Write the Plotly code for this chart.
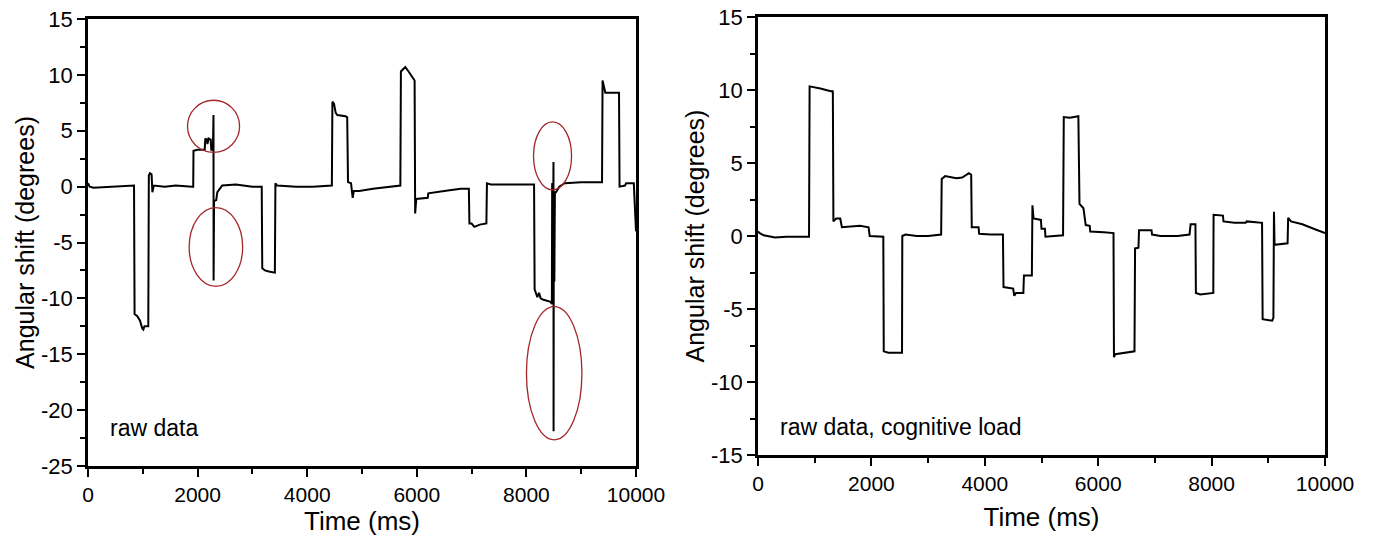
import plotly.graph_objects as go

# ---------------- data ----------------
left_t = [0, 30, 100, 300, 500, 700, 840, 850, 900, 950, 990, 1010, 1030, 1100,
          1110, 1130, 1160, 1175, 1200, 1400, 1600, 1900, 1920, 1925, 2000, 2130,
          2140, 2170, 2180, 2200, 2240, 2250, 2280, 2290, 2292, 2300, 2340, 2360,
          2450, 2700, 3000, 3170, 3180, 3230, 3300, 3410, 3420, 3450, 3800, 4100,
          4450, 4460, 4490, 4520, 4550, 4700, 4730, 4745, 4800, 4830, 4850, 4950,
          5200, 5500, 5700, 5710, 5750, 5790, 5850, 5940, 5960, 5970, 5990, 6200,
          6210, 6500, 6800, 6950, 6960, 7000, 7050, 7150, 7270, 7280, 7350, 7700,
          8140, 8150, 8200, 8230, 8260, 8300, 8440, 8465, 8470, 8475, 8480, 8485,
          8490, 8494, 8496, 8500, 8510, 8520, 8540, 8600, 8700, 9000, 9380, 9390,
          9410, 9440, 9690, 9700, 9800, 9820, 9960, 9975, 9990, 10000]
left_v = [0.3, 0.0, -0.1, -0.05, 0.0, 0.05, 0.1, -11.4, -11.6, -12.0, -12.7, -12.8, -12.5, -12.5,
          1.0, 1.2, 1.1, -0.5, 0.1, 0.0, 0.1, 0.0, 0.0, 3.2, 3.3, 3.3,
          4.3, 4.2, 3.8, 4.3, 4.2, 3.3, 3.3, 6.4, -8.4, -1.3, -1.2, -0.5,
          0.1, 0.2, 0.0, 0.0, -7.3, -7.5, -7.6, -7.7, 0.3, 0.1, 0.0, 0.0,
          0.1, 7.6, 7.4, 6.6, 6.4, 6.3, 6.2, 0.4, 0.3, -1.0, -0.4, -0.4,
          -0.2, 0.0, 0.1, 10.3, 10.5, 10.7, 10.3, 9.7, 9.5, -2.4, -1.1, -1.0,
          -0.6, -0.4, -0.2, -0.2, -3.3, -3.3, -3.6, -3.4, -3.3, 0.3, 0.2, 0.2,
          0.2, -9.2, -9.9, -9.5, -10.0, -10.1, -10.3, -10.5, 0.3, -8.7, 0.2, -8.0,
          0.3, 2.2, -21.9, -0.5, -8.5, -0.5, -0.5, 0.0, 0.3, 0.4, 0.4, 9.5,
          8.9, 8.4, 8.4, 0.0, 0.1, 0.3, 0.3, -2.0, -4.0, -4.0]

right_t = [0, 30, 100, 300, 500, 700, 900, 910, 1000, 1100, 1200, 1300, 1320, 1330,
           1380, 1450, 1480, 1600, 1800, 1950, 1970, 2210, 2218, 2300, 2540, 2545,
           2600, 2800, 3000, 3230, 3240, 3300, 3400, 3500, 3600, 3720, 3760, 3770,
           3890, 3900, 4100, 4320, 4330, 4500, 4520, 4550, 4680, 4690, 4830, 4840,
           4860, 4990, 5000, 5060, 5070, 5380, 5393, 5500, 5650, 5670, 5740, 5780,
           5850, 5860, 6100, 6270, 6278, 6300, 6640, 6650, 6710, 6720, 6940, 6950,
           7100, 7400, 7610, 7630, 7715, 7723, 7800, 8030, 8035, 8200, 8210, 8400,
           8600, 8620, 8890, 8900, 9070, 9090, 9100, 9110, 9340, 9350, 9400, 9600,
           9800, 10000]
right_v = [0.3, 0.2, 0.05, -0.1, -0.05, -0.05, -0.05, 10.25, 10.2, 10.1, 10.0, 9.9, 9.95, 1.0,
           1.2, 1.2, 0.6, 0.65, 0.7, 0.6, 0.0, -0.05, -7.9, -8.0, -8.0, 0.0,
           0.1, 0.0, 0.0, 0.1, 3.9, 4.1, 4.05, 3.95, 4.0, 4.3, 4.2, 0.6,
           0.6, 0.15, 0.1, 0.1, -3.5, -3.6, -4.1, -3.9, -3.9, -2.7, -2.7, 2.1,
           1.2, 1.1, 0.5, 0.5, -0.05, 0.05, 8.15, 8.1, 8.2, 2.2, 1.9, 0.75,
           0.7, 0.3, 0.25, 0.2, -8.3, -8.1, -7.9, -0.85, -0.8, 0.4, 0.4, 0.1,
           0.0, 0.0, 0.1, 0.8, 0.8, -3.9, -4.0, -3.9, 1.45, 1.4, 1.0, 0.9,
           0.9, 1.0, 0.9, -5.7, -5.8, -5.6, 1.66, -0.6, -0.5, 1.25, 1.0, 0.8,
           0.5, 0.2]

# highlighted artefacts (centre time, centre value, half-width ms, half-height deg)
ell_t = [2291, 2334, 8477, 8507]
ell_v = [5.4, -5.4, 2.75, -16.7]
ell_rx = [475, 488, 347, 506]
ell_ry = [2.33, 3.52, 3.04, 5.96]

x_ticks = [0, 2000, 4000, 6000, 8000, 10000]
x_tick_text = ["0", "2000", "4000", "6000", "8000", "10000"]
left_y_ticks = [15, 10, 5, 0, -5, -10, -15, -20, -25]
right_y_ticks = [15, 10, 5, 0, -5, -10, -15]

labels = ["raw data", "raw data, cognitive load"]

# ---------------- figure ----------------
FONT = "Liberation Sans, Arial, sans-serif"
W, H = 1375, 538

fig = go.Figure()
fig.add_trace(go.Scatter(x=left_t, y=left_v, mode="lines",
                         line=dict(color="black", width=2),
                         xaxis="x", yaxis="y", showlegend=False))
fig.add_trace(go.Scatter(x=right_t, y=right_v, mode="lines",
                         line=dict(color="black", width=2),
                         xaxis="x2", yaxis="y2", showlegend=False))

shapes = []
for t, v, rx, ry in zip(ell_t, ell_v, ell_rx, ell_ry):
    shapes.append(dict(type="circle", xref="x", yref="y",
                       x0=t - rx, x1=t + rx, y0=v - ry, y1=v + ry,
                       line=dict(color="#A4282A", width=1.3)))


def xax(domain, anchor, standoff):
    return dict(domain=domain, anchor=anchor, range=[0, 10000], automargin=False,
                tickvals=x_ticks, ticktext=x_tick_text,
                ticks="outside", ticklen=8, tickwidth=2,
                tickcolor="black", showline=True, linecolor="black", linewidth=2.5,
                mirror=True, showgrid=False, zeroline=False,
                minor=dict(dtick=1000, tick0=0, ticks="outside", ticklen=5,
                           tickwidth=2, tickcolor="black", showgrid=False),
                tickfont=dict(family=FONT, size=21, color="black"),
                title=dict(text="Time (ms)", standoff=standoff,
                           font=dict(family=FONT, size=26, color="black")))


def yax(domain, anchor, rng, ticks, standoff):
    return dict(domain=domain, anchor=anchor, range=rng, automargin=False,
                tickvals=ticks, ticktext=[str(v) for v in ticks],
                ticks="outside", ticklen=8, tickwidth=2,
                tickcolor="black", showline=True, linecolor="black", linewidth=2.5,
                mirror=True, showgrid=False, zeroline=False,
                minor=dict(dtick=2.5, tick0=0, ticks="outside", ticklen=5,
                           tickwidth=2, tickcolor="black", showgrid=False),
                tickfont=dict(family=FONT, size=22, color="black"),
                title=dict(text="Angular shift (degrees)", standoff=standoff,
                           font=dict(family=FONT, size=25, color="black")))


fig.update_layout(
    width=W, height=H,
    margin=dict(l=0, r=0, t=0, b=0),
    paper_bgcolor="white", plot_bgcolor="white",
    xaxis=xax([88 / W, 636 / W], "y", 0),
    yaxis=yax([1 - 466 / H, 1 - 19 / H], "x", [-25, 15], left_y_ticks, 0),
    xaxis2=xax([758 / W, 1325 / W], "y2", 14),
    yaxis2=yax([1 - 455 / H, 1 - 17 / H], "x2", [-15, 15], right_y_ticks, 0),
    shapes=shapes,
    annotations=[
        dict(text=labels[0], x=366, y=-21.6, xref="x", yref="y",
             xanchor="left", yanchor="middle", showarrow=False,
             font=dict(family=FONT, size=23, color="black")),
        dict(text=labels[1], x=354, y=-13.05, xref="x2", yref="y2",
             xanchor="left", yanchor="middle", showarrow=False,
             font=dict(family=FONT, size=23, color="black")),
    ],
)

fig.write_html("out.html")
